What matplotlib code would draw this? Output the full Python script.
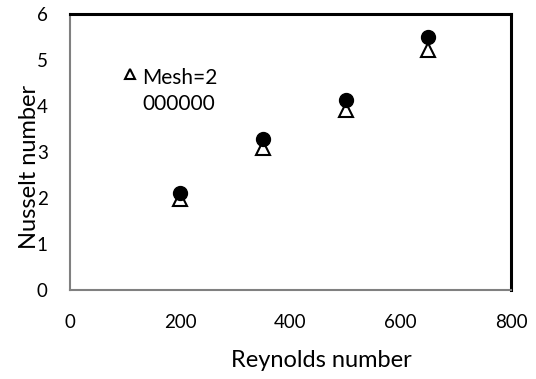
import matplotlib
matplotlib.use("Agg")
import numpy as np
import matplotlib.pyplot as plt

plt.rcParams['font.family'] = ['Lato', 'DejaVu Sans']

reynolds = [200, 350, 500, 650]
nu_circle = [2.11, 3.28, 4.13, 5.50]
nu_triangle = [1.98, 3.09, 3.91, 5.22]
legend_label = "Mesh=2\n000000"

W, H = 536, 379
fig = plt.figure(figsize=(W/100, H/100), dpi=100)
L, R, T, B = 70, 511, 14, 290
ax = fig.add_axes([L/W, 1-B/H, (R-L)/W, (B-T)/H])

ax.plot(reynolds, nu_circle, linestyle='none', marker='o', markersize=10,
        color='black', zorder=3)
ax.plot(reynolds, nu_triangle, linestyle='none', marker='^', markersize=10,
        markerfacecolor='white', markeredgecolor='black', markeredgewidth=1.5,
        label=legend_label, zorder=2)

ax.set_xlim(0, 800)
ax.set_ylim(0, 6)
ax.set_xticks([0, 200, 400, 600, 800])
ax.set_yticks([0, 1, 2, 3, 4, 5, 6])
ax.tick_params(length=0, labelsize=13.5)
ax.tick_params(axis='y', pad=16)
ax.tick_params(axis='x', pad=17)

for s in ['left', 'bottom']:
    ax.spines[s].set_color('#808080')
    ax.spines[s].set_linewidth(1.5)
for s in ['top', 'right']:
    ax.spines[s].set_color('black')
    ax.spines[s].set_linewidth(2.2)

ax.set_xlabel("Reynolds number", fontsize=17)
ax.xaxis.set_label_coords((321-L)/(R-L), (B-350)/(B-T))
ax.set_ylabel("Nusselt number", fontsize=17)
ax.yaxis.set_label_coords((40-L)/(R-L), (B-167)/(B-T))

fs = 15
leg = ax.legend(loc='upper left', bbox_to_anchor=((113-L)/(R-L), (B-58)/(B-T)),
                frameon=False, fontsize=fs, handlelength=0.6, handletextpad=0.3,
                borderpad=0, markerscale=0.75)
leg.get_texts()[0].set_linespacing(1.35)
h = leg.legend_handles[0]
h.set_ydata(np.asarray(h.get_ydata()) + 13)

fig.savefig("out.png", dpi=100)
